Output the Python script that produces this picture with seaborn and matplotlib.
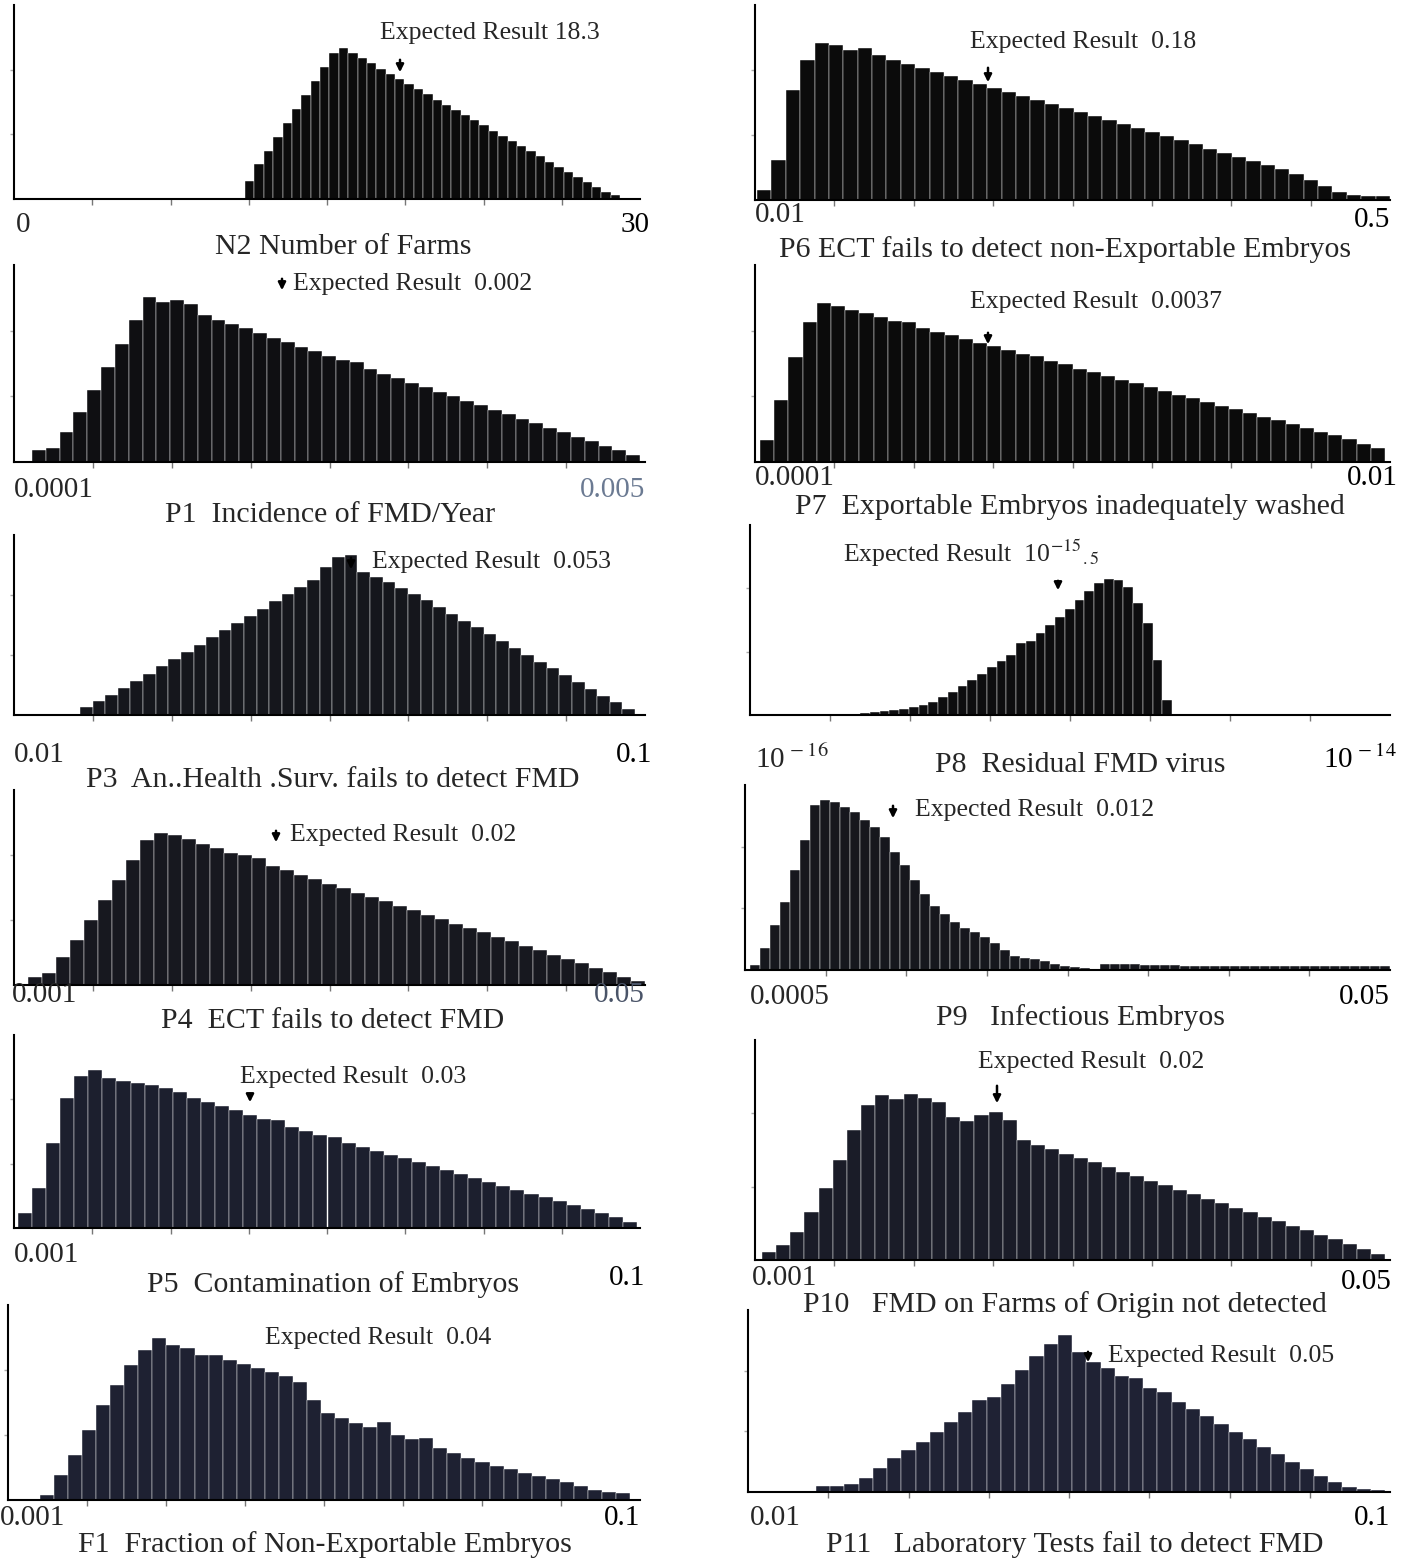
"""
Risk model input distributions - 12 histogram panels.
"""
import numpy as np
import pandas as pd
import matplotlib
matplotlib.use("Agg")
import matplotlib.pyplot as plt
from matplotlib.patches import FancyArrowPatch
import seaborn as sns

W, H = 1412, 1562

# bar heights (pixels above the baseline)
n2_heights = [18, 35, 48, 62, 76, 90, 104, 118, 132, 146, 151, 146, 141, 136, 130, 125, 120, 115, 110, 105,
              99, 94, 89, 84, 79, 74, 68, 63, 58, 53, 48, 43, 37, 32, 27, 22, 17, 12, 7, 4]
p1_heights = [12, 14, 30, 50, 72, 95, 118, 142, 165, 160, 162, 158, 147, 142, 138, 134, 129, 124, 120, 115,
              111, 106, 102, 100, 93, 88, 84, 79, 75, 70, 66, 61, 57, 52, 48, 43, 39, 34, 30, 25, 21, 16, 12, 7]
p3_heights = [8, 14, 20, 27, 34, 41, 49, 56, 63, 70, 78, 85, 92, 99, 106, 114, 121, 128, 135, 148,
              158, 160, 143, 138, 133, 127, 121, 115, 108, 101, 94, 88, 81, 74, 67, 60, 53, 47, 40, 33, 26, 19, 13, 6]
p4_heights = [8, 12, 28, 45, 65, 85, 105, 125, 145, 152, 150, 146, 141, 137, 132, 130, 127, 119, 115, 110,
              106, 101, 97, 92, 88, 84, 79, 75, 70, 66, 61, 57, 53, 48, 44, 39, 35, 30, 26, 22, 17, 13, 8, 4]
p5_heights = [15, 40, 85, 130, 152, 158, 150, 147, 145, 143, 140, 136, 130, 126, 122, 118, 113, 109, 108, 101,
              97, 93, 91, 85, 81, 77, 73, 70, 66, 62, 58, 54, 50, 46, 42, 38, 34, 31, 27, 23, 19, 15, 11, 6]
f1_heights = [5, 25, 45, 70, 95, 115, 135, 150, 162, 155, 152, 145, 145, 140, 136, 132, 128, 124, 118, 100,
              87, 82, 77, 73, 78, 65, 61, 62, 52, 47, 42, 38, 34, 31, 27, 24, 21, 18, 14, 10, 8, 7]
p6_heights = [10, 40, 110, 140, 157, 155, 150, 152, 145, 140, 136, 132, 128, 124, 120, 116, 112, 108, 104, 100,
              96, 92, 88, 84, 80, 76, 72, 68, 64, 60, 56, 51, 47, 43, 39, 35, 31, 26, 20, 14, 8, 5, 4, 4]
p7_heights = [22, 62, 105, 140, 159, 156, 152, 149, 145, 141, 140, 134, 130, 127, 123, 119, 116, 112, 108, 106,
              101, 98, 93, 90, 86, 82, 79, 75, 71, 67, 64, 60, 56, 53, 49, 45, 42, 38, 34, 30, 27, 23, 18, 14]
p8_heights = [2, 3, 4, 5, 6, 8, 10, 13, 18, 23, 29, 35, 41, 48, 54, 60, 72, 74, 82, 90,
              98, 106, 115, 124, 132, 136, 135, 128, 112, 92, 55, 15]
p9_heights = [5, 22, 45, 68, 100, 130, 165, 170, 168, 163, 158, 150, 143, 133, 118, 105, 90, 76, 64, 56,
              48, 42, 38, 33, 27, 20, 14, 12, 11, 9, 6, 4, 3, 2, 1,
              6, 6, 6, 6, 5, 5, 5, 5, 4, 4, 4, 4, 4, 4, 4, 4, 4, 4, 4, 4, 4, 4, 4, 4, 4, 4, 4, 4, 4]
p10_heights = [8, 15, 28, 48, 72, 100, 130, 155, 165, 161, 166, 162, 158, 143, 139, 145, 148, 140, 120, 115,
               111, 106, 102, 98, 93, 88, 84, 79, 75, 70, 66, 61, 57, 52, 48, 43, 39, 34, 30, 25, 21, 16, 11, 6]
p11_heights = [6, 6, 8, 14, 24, 34, 42, 50, 60, 70, 80, 92, 95, 108, 122, 136, 148, 157, 140, 130,
               124, 116, 114, 104, 100, 90, 83, 76, 68, 60, 53, 45, 38, 30, 23, 16, 10, 5, 3, 2]

titles = ["N2 Number of Farms", "P1  Incidence of FMD/Year", "P3  An..Health .Surv. fails to detect FMD",
          "P4  ECT fails to detect FMD", "P5  Contamination of Embryos", "F1  Fraction of Non-Exportable Embryos",
          "P6 ECT fails to detect non-Exportable Embryos", "P7  Exportable Embryos inadequately washed",
          "P8  Residual FMD virus", "P9   Infectious Embryos", "P10   FMD on Farms of Origin not detected",
          "P11   Laboratory Tests fail to detect FMD"]
expected = ["Expected Result 18.3", "Expected Result  0.002", "Expected Result  0.053", "Expected Result  0.02",
            "Expected Result  0.03", "Expected Result  0.04", "Expected Result  0.18", "Expected Result  0.0037",
            r"Expected Result  10$^{-15}{}_{.5}$", "Expected Result  0.012", "Expected Result  0.02",
            "Expected Result  0.05"]
min_labels = ["0", "0.0001", "0.01", "0.001", "0.001", "0.001",
              "0.01", "0.0001", r"10$^{\,-16}$", "0.0005", "0.001", "0.01"]
max_labels = ["30", "0.005", "0.1", "0.05", "0.1", "0.1",
              "0.5", "0.01", r"10$^{\,-14}$", "0.05", "0.05", "0.1"]
heights = [n2_heights, p1_heights, p3_heights, p4_heights, p5_heights, f1_heights,
           p6_heights, p7_heights, p8_heights, p9_heights, p10_heights, p11_heights]

# layout in reference pixels: axis x0, x1, top, baseline, bars from/to
boxes = [(14, 640, 5, 199, 245, 620), (14, 645, 265, 462, 32, 640), (14, 645, 535, 715, 80, 635),
         (14, 645, 790, 985, 28, 645), (14, 640, 1035, 1228, 18, 637), (8, 640, 1305, 1500, 40, 630),
         (755, 1390, 5, 200, 757, 1390), (755, 1390, 265, 462, 760, 1385), (750, 1390, 525, 715, 860, 1172),
         (745, 1390, 785, 970, 750, 1390), (755, 1390, 1040, 1260, 762, 1385), (748, 1390, 1310, 1492, 816, 1385)]
# min label (x, y), max label (x, y), title (x, y), expected text (x, y), arrow (x, y0, y1) or None
text_pos = [((16, 225), (650, 225), (343, 247), (380, 33), (400, 57, 75)),
            ((14, 490), (645, 490), (330, 515), (293, 284), (282, 276, 293)),
            ((14, 755), (652, 755), (333, 780), (372, 562), (351, 555, 572)),
            ((12, 995), (645, 995), (333, 1021), (290, 835), (276, 828, 845)),
            ((14, 1255), (645, 1278), (333, 1285), (240, 1077), (250, 1091, 1105)),
            ((0, 1518), (640, 1518), (325, 1545), (265, 1338), None),
            ((755, 215), (1390, 220), (1065, 250), (970, 42), (988, 65, 85)),
            ((755, 478), (1398, 478), (1070, 507), (970, 302), (988, 330, 347)),
            ((755, 760), (1397, 760), (1080, 765), (843, 553), (1058, 578, 593)),
            ((750, 997), (1390, 997), (1080, 1018), (915, 810), (893, 803, 821)),
            ((752, 1278), (1392, 1282), (1065, 1305), (978, 1062), (997, 1083, 1106)),
            ((750, 1518), (1390, 1518), (1075, 1545), (1108, 1356), (1088, 1349, 1365))]
bar_colors = ["#0b0b0b", "#0f0f12", "#15161c", "#17181f", "#1c1f2e", "#1e2132",
              "#0b0b0b", "#0b0b0b", "#0d0d0f", "#16171d", "#1a1c28", "#1f2234"]
max_label_colors = ["black", "#6b7a92", "black", "#4a5468", "black", "black",
                    "black", "black", "black", "black", "black", "black"]

sns.set_theme(style="white")
plt.rcParams["font.family"] = ["Liberation Serif", "DejaVu Serif"]
plt.rcParams["mathtext.fontset"] = "stix"

fig = plt.figure(figsize=(W / 100, H / 100), dpi=100)


def fx(x):
    return x / W


def fy(y):
    return 1 - y / H


def draw_panel(i):
    x0, x1, top, base, b0, b1 = boxes[i]
    ax = fig.add_axes([fx(x0), fy(base), (x1 - x0) / W, (base - top) / H])
    vals = heights[i]
    lo, hi = (b0 - x0) / (x1 - x0), (b1 - x0) / (x1 - x0)
    step = (hi - lo) / len(vals)
    df = pd.DataFrame({"pos": lo + step * (np.arange(len(vals)) + 0.5), "h": vals})
    sns.histplot(data=df, x="pos", weights="h", bins=len(vals), binrange=(lo, hi),
                 color=bar_colors[i], alpha=1, edgecolor="white", linewidth=0.3, ax=ax)
    ax.set_xlim(0, 1)
    ax.set_ylim(0, base - top)
    ax.set_ylabel("")
    ax.set_xlabel("")
    for side in ["top", "right"]:
        ax.spines[side].set_visible(False)
    for side in ["left", "bottom"]:
        ax.spines[side].set_color("black")
        ax.spines[side].set_linewidth(1.5)
    ax.set_xticks(np.arange(0.125, 1.0, 0.125))
    ax.set_xticklabels([])
    ax.set_yticks(np.linspace(0, base - top, 4)[1:3])
    ax.set_yticklabels([])
    ax.tick_params(axis="x", direction="out", length=4, width=1, color="#777777", bottom=True)
    ax.tick_params(axis="y", direction="out", length=3, width=1, color="#aaaaaa", left=True)

    (mnx, mny), (mxx, mxy), (tx, ty), (ex, ey), arrow = text_pos[i]
    fig.text(fx(mnx), fy(mny), min_labels[i], ha="left", va="center", fontsize=21)
    fig.text(fx(mxx), fy(mxy), max_labels[i], ha="right", va="center", fontsize=21,
             color=max_label_colors[i])
    fig.text(fx(tx), fy(ty), titles[i], ha="center", va="center", fontsize=21.5)
    fig.text(fx(ex), fy(ey), expected[i], ha="left", va="center", fontsize=18.5)
    if arrow is not None:
        axx, ay0, ay1 = arrow
        fig.add_artist(FancyArrowPatch((fx(axx), fy(ay0)), (fx(axx), fy(ay1)),
                                       transform=fig.transFigure, arrowstyle="-|>",
                                       mutation_scale=11, lw=1.8, color="black"))


for i in range(len(heights)):
    draw_panel(i)

fig.savefig("out.png", dpi=100)
